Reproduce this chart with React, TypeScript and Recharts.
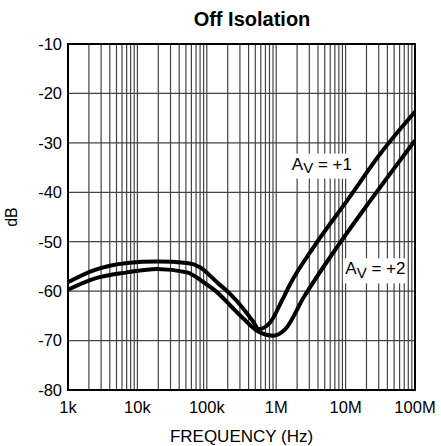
import { LineChart, Line, XAxis, YAxis, CartesianGrid, ReferenceArea, ReferenceDot } from "recharts";

const FONT = '"Liberation Sans", Arial, Helvetica, sans-serif';

// frequency (Hz) / dB points
const av1Freq = [1e3, 2.34e3, 7.08e3, 19.2e3, 51.8e3, 80.6e3, 140e3, 218e3, 339e3, 472e3, 557e3, 822e3, 1.21e6, 1.6e6, 3.46e6, 10.5e6, 31.6e6, 1e8];
const av1Db = [-58.2, -55.8, -54.3, -54.0, -54.3, -55.2, -58.2, -60.6, -63.6, -66.3, -67.7, -66.3, -61.9, -58.5, -51.1, -41.7, -32.2, -23.7];

const av2Freq = [1e3, 2.34e3, 7.08e3, 19.2e3, 51.8e3, 89.9e3, 140e3, 218e3, 339e3, 528e3, 918e3, 1.35e6, 2.48e6, 7.52e6, 22.7e6, 1e8];
const av2Db = [-59.7, -57.5, -56.2, -55.5, -56.2, -58.2, -60.2, -62.9, -65.6, -68.0, -69.0, -67.7, -61.3, -51.1, -41.7, -29.5];

const yTicks = [-80, -70, -60, -50, -40, -30, -20, -10];
const decades = [1e3, 1e4, 1e5, 1e6, 1e7];
const decadeLabels: Record<number, string> = { 1e3: "1k", 1e4: "10k", 1e5: "100k", 1e6: "1M", 1e7: "10M", 1e8: "100M" };

// log grid: 1..9 in each decade, plus the last edge
const xTicks = [...decades.flatMap((d) => [1, 2, 3, 4, 5, 6, 7, 8, 9].map((m) => m * d)), 1e8];

const av1Data = av1Freq.map((f, i) => ({ f, db: av1Db[i] }));
const av2Data = av2Freq.map((f, i) => ({ f, db: av2Db[i] }));

function GainTag({ cx, cy, gain }: { cx?: number; cy?: number; gain: string }) {
  if (cx == null || cy == null) return null;
  return (
    <g>
      <rect x={cx - 32} y={cy - 12.5} width={64} height={25} fill="#fff" />
      <text x={cx - 29.5} y={cy + 3.5} fontSize={17} fontFamily={FONT} fill="#000">
        A
        <tspan fontSize={15} dy={3.3}>V</tspan>
        <tspan dy={-3.3}>{` = ${gain}`}</tspan>
      </text>
    </g>
  );
}

export default function App() {
  return (
    <div style={{ position: "absolute", left: 0, top: 0, width: 441, height: 446, background: "#fff", fontFamily: FONT }}>
      <div style={{ position: "absolute", left: 0, width: 504, top: 6, textAlign: "center", fontWeight: 700, fontSize: 20, lineHeight: "26px" }}>
        Off Isolation
      </div>
      <div
        style={{
          position: "absolute",
          left: 12,
          top: 217,
          fontSize: 16,
          transform: "translate(-50%, -50%) rotate(-90deg)",
        }}
      >
        dB
      </div>
      <LineChart width={441} height={446} margin={{ top: 44, right: 26, left: 0, bottom: 0 }}>
        <CartesianGrid stroke="#444" strokeWidth={1.2} />
        <XAxis
          dataKey="f"
          type="number"
          scale="log"
          domain={[1e3, 1e8]}
          allowDataOverflow
          ticks={xTicks}
          interval={0}
          tickFormatter={(v: number) => decadeLabels[v] ?? ""}
          tickLine={false}
          axisLine={false}
          tickSize={0}
          tickMargin={11}
          height={56}
          tick={{ fontSize: 16.5, fill: "#000", fontFamily: FONT }}
          label={{ value: "FREQUENCY (Hz)", position: "insideBottom", offset: 4, fontSize: 17, fill: "#000", fontFamily: FONT }}
        />
        <YAxis
          type="number"
          domain={[-80, -10]}
          ticks={yTicks}
          interval={0}
          tickLine={false}
          axisLine={false}
          tickSize={0}
          tickMargin={6}
          width={68}
          tick={{ fontSize: 16.5, fill: "#000", fontFamily: FONT }}
        />
        <ReferenceArea x1={1e3} x2={1e8} y1={-80} y2={-10} fill="none" stroke="#000" strokeWidth={2} />
        <Line data={av1Data} dataKey="db" type="monotone" stroke="#000" strokeWidth={4} dot={false} isAnimationActive={false} />
        <Line data={av2Data} dataKey="db" type="monotone" stroke="#000" strokeWidth={4} dot={false} isAnimationActive={false} />
        <ReferenceDot x={4.47e6} y={-34.7} r={0} shape={(p: any) => <GainTag cx={p.cx} cy={p.cy} gain="+1" />} />
        <ReferenceDot x={26.4e6} y={-55.9} r={0} shape={(p: any) => <GainTag cx={p.cx} cy={p.cy} gain="+2" />} />
      </LineChart>
    </div>
  );
}
